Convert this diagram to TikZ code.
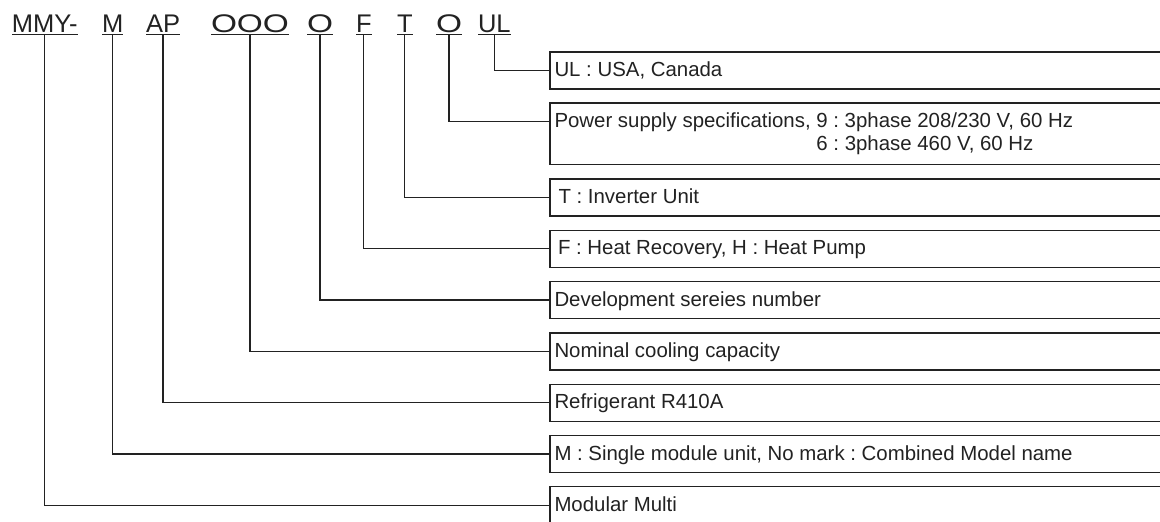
\documentclass[tikz,border=0pt]{standalone}
\usepackage{graphicx}
\usepackage{fontspec}
\setmainfont{Liberation Sans}
\frenchspacing
\definecolor{ink}{HTML}{222222}
\newcommand{\bigO}[1]{\scalebox{1.31}[1]{#1}}
\begin{document}
\begin{tikzpicture}[x=1pt,y=-1pt,
  code/.style={inner sep=0pt, outer sep=0pt, anchor=base west, text=ink,
               font=\fontsize{25.5}{28}\selectfont},
  uline/.style={draw=ink, line width=1.4pt},
  conn/.style={draw=ink, line width=1.3pt},
  codebox/.style={draw=ink, line width=1.3pt, inner sep=0pt, outer sep=0pt,
                  anchor=north west, minimum width=640pt, minimum height=37pt},
  desc/.style={inner sep=0pt, outer sep=0pt, anchor=base west, text=ink,
               font=\fontsize{20.4}{23}\selectfont}
]
\useasboundingbox (0,0) rectangle (1160,522);
\clip (0,0) rectangle (1160,522);
\fill[white] (0,0) rectangle (1160,522);

% model code
\node[code] (cMMY) at (12,32)  {MMY-};
\node[code] (cM)   at (102,32) {M};
\node[code] (cAP)  at (146,32) {AP};
\node[code] (cCAP) at (211,32) {\bigO{OOO}};
\node[code] (cDEV) at (307,32) {\bigO{O}};
\node[code] (cF)   at (356,32) {F};
\node[code] (cT)   at (397,32) {T};
\node[code] (cPS)  at (436,32) {\bigO{O}};
\node[code] (cUL)  at (478,32) {UL};

\foreach \n in {cMMY,cM,cAP,cCAP,cDEV,cF,cT,cPS,cUL}{
  \draw[uline] ([yshift=-2.5pt]\n.base west) -- ([yshift=-2.5pt]\n.base east);
  \coordinate (u\n) at ([yshift=-2.5pt]\n.base);
}

% boxes
\node[codebox] (bUL)  at (550,52)    {};
\node[codebox, minimum height=61.5pt] (bPS) at (550,103) {};
\node[codebox] (bT)   at (550,179)   {};
\node[codebox] (bF)   at (550,230.3) {};
\node[codebox] (bDEV) at (550,281.6) {};
\node[codebox] (bCAP) at (550,332.9) {};
\node[codebox] (bAP)  at (550,384.2) {};
\node[codebox] (bM)   at (550,435.5) {};
\node[codebox] (bMMY) at (550,486.8) {};

% texts
\node[desc] (tUL)  at (554.5,76.5)  {UL : USA, Canada};
\node[desc] (tPS)  at (554.5,127.5) {\begin{tabular}[t]{@{}l@{}}Power supply specifications, 9 : 3phase 208/230 V, 60 Hz\\
  \phantom{Power supply specifications, }6 : 3phase 460 V, 60 Hz\end{tabular}};
\node[desc] (tT)   at (558.5,203.5) {T : Inverter Unit};
\node[desc] (tF)   at (558,254.8)   {F : Heat Recovery, H : Heat Pump};
\node[desc] (tDEV) at (554.5,306.1) {Development sereies number};
\node[desc] (tCAP) at (554.5,357.4) {Nominal cooling capacity};
\node[desc] (tAP)  at (554.5,408.7) {Refrigerant R410A};
\node[desc] (tM)   at (554.5,460)   {M : Single module unit, No mark : Combined Model name};
\node[desc] (tMMY) at (554.5,511.3) {Modular Multi};

% connectors
\foreach \c/\b in {cUL/bUL,cPS/bPS,cT/bT,cF/bF,cDEV/bDEV,cCAP/bCAP,cAP/bAP,cM/bM,cMMY/bMMY}{
  \draw[conn] (u\c) |- ([yshift=-18.5pt]\b.north west);
}
\end{tikzpicture}
\end{document}
